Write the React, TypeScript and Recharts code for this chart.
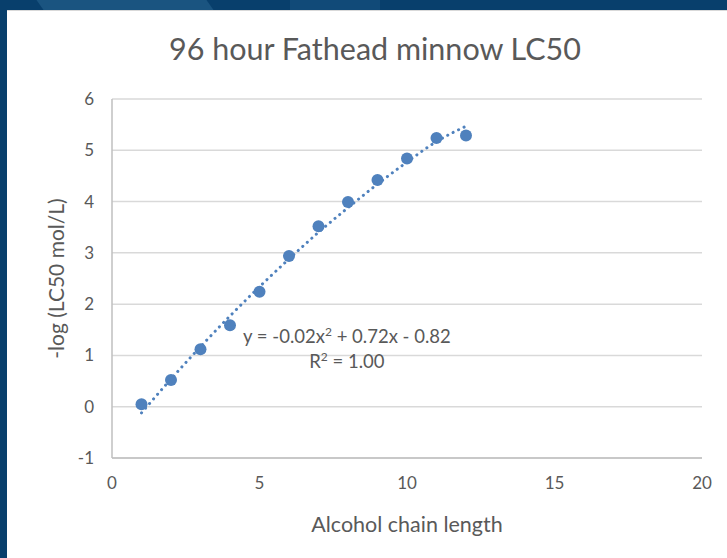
import React from "react";
import {
  ScatterChart,
  Scatter,
  XAxis,
  YAxis,
  CartesianGrid,
} from "recharts";

const chainLength = [1, 2, 3, 4, 5, 6, 7, 8, 9, 10, 11, 12];
const negLogLC50 = [0.05, 0.52, 1.12, 1.59, 2.24, 2.94, 3.52, 3.99, 4.42, 4.84, 5.24, 5.29];
// poly trendline as drawn in the picture
const trendValues = [-0.12, 0.54, 1.17, 1.77, 2.34, 2.88, 3.4, 3.88, 4.34, 4.77, 5.17, 5.47];

const xTicks = [0, 5, 10, 15, 20];
const yTicks = [-1, 0, 1, 2, 3, 4, 5, 6];

const points = chainLength.map((x, i) => ({ x, y: negLogLC50[i] }));
const trend = chainLength.map((x, i) => ({ x, y: trendValues[i] }));

const FONT = "Lato, 'Open Sans', sans-serif";
const TEXT = "#595959";
const BLUE = "#4f81bd";

export default function App() {
  const sup = { fontSize: 12, verticalAlign: "7px", lineHeight: 0 };
  return (
    <div
      style={{
        position: "absolute",
        left: 0,
        top: 0,
        width: 727,
        height: 558,
        background: "#083f6c",
        overflow: "hidden",
        fontFamily: FONT,
      }}
    >
      <div style={{ position: "absolute", left: 40, top: 0, width: 170, height: 10, background: "#1a5480", transform: "skewX(35deg)" }} />
      <div style={{ position: "absolute", left: 290, top: 0, width: 90, height: 10, background: "#114a78" }} />
      <div
        style={{
          position: "absolute",
          left: 7,
          top: 10,
          width: 720,
          height: 548,
          background: "#fff",
          borderTop: "1px solid #d9d9d9",
          boxSizing: "border-box",
        }}
      >
        <div
          style={{
            position: "absolute",
            left: 0,
            width: 736,
            top: 19,
            textAlign: "center",
            fontSize: 30.5,
            color: TEXT,
          }}
        >
          96 hour Fathead minnow LC50
        </div>
        <ScatterChart
          width={720}
          height={547}
          margin={{ top: 88, right: 25, bottom: 0, left: 0 }}
          style={{ fontFamily: FONT }}
        >
          <CartesianGrid vertical={false} stroke="#d9d9d9" strokeWidth={1.5} />
          <XAxis
            type="number"
            dataKey="x"
            domain={[0, 20]}
            ticks={xTicks}
            tickLine={false}
            tickSize={0}
            tickMargin={19}
            height={100}
            axisLine={{ stroke: "#bfbfbf", strokeWidth: 1.5 }}
            tick={{ fill: TEXT, fontSize: 17 }}
            label={{
              value: "Alcohol chain length",
              position: "insideBottom",
              offset: 26,
              fill: TEXT,
              fontSize: 21.5,
            }}
          />
          <YAxis
            type="number"
            dataKey="y"
            domain={[-1, 6]}
            ticks={yTicks}
            tickLine={false}
            tickSize={0}
            tickMargin={18}
            width={105}
            axisLine={{ stroke: "#bfbfbf", strokeWidth: 1.5 }}
            tick={{ fill: TEXT, fontSize: 17 }}
            label={{
              value: "-log (LC50 mol/L)",
              angle: -90,
              position: "insideLeft",
              offset: 50,
              textAnchor: "middle",
              fill: TEXT,
              fontSize: 21,
            }}
          />
          <Scatter
            data={trend}
            isAnimationActive={false}
            line={{ stroke: BLUE, strokeWidth: 3, strokeDasharray: "0.1 6", strokeLinecap: "round" }}
            lineJointType="monotoneX"
            shape={() => <g />}
          />
          <Scatter
            data={points}
            fill={BLUE}
            isAnimationActive={false}
            shape={(p: any) => <circle cx={p.cx} cy={p.cy} r={6} fill={BLUE} />}
          />
        </ScatterChart>
        <div
          style={{
            position: "absolute",
            left: 236,
            top: 313,
            fontSize: 18.5,
            color: TEXT,
            lineHeight: "25px",
            textAlign: "center",
          }}
        >
          <div>
            y = -0.02x<sup style={sup}>2</sup> + 0.72x - 0.82
          </div>
          <div>
            R<sup style={sup}>2</sup> = 1.00
          </div>
        </div>
      </div>
    </div>
  );
}
